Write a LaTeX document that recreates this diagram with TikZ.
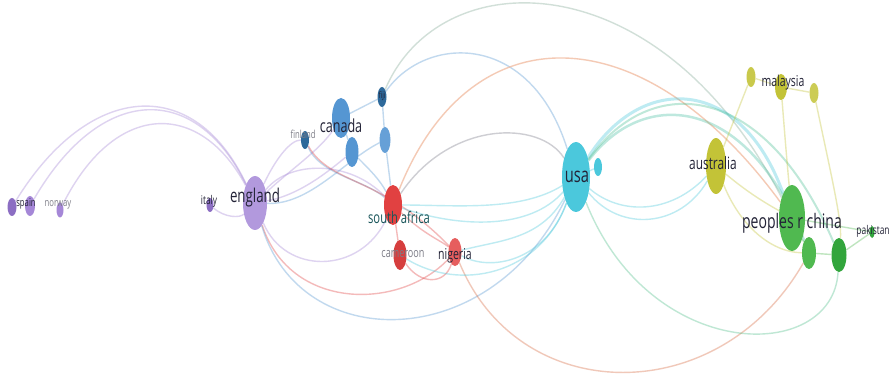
\documentclass[tikz,border=0pt]{standalone}
\usepackage{fontspec}
\setmainfont{Open Sans}
\usetikzlibrary{shapes.geometric,backgrounds}

\definecolor{purpleV}{RGB}{165,135,215}
\definecolor{purpleD}{RGB}{140,110,195}
\definecolor{blueV}{RGB}{85,150,210}
\definecolor{blueD}{RGB}{45,105,155}
\definecolor{redV}{RGB}{225,65,65}
\definecolor{peachV}{RGB}{240,180,150}
\definecolor{grayV}{RGB}{120,120,135}
\definecolor{cyanV}{RGB}{75,200,220}
\definecolor{yellowV}{RGB}{195,195,55}
\definecolor{greenV}{RGB}{80,185,80}
\definecolor{greenD}{RGB}{50,165,60}
\definecolor{labelV}{RGB}{35,35,55}
\definecolor{labelG}{RGB}{125,125,135}
\definecolor{labelT}{RGB}{25,85,90}

\newcommand{\narrow}[1]{\scalebox{0.7}[1]{#1}}

\tikzset{
  bub/.style={ellipse, draw=none, inner sep=0pt, fill=#1},
  sz/.style 2 args={minimum width=#1, minimum height=#2},
  lab/.style={inner sep=0pt, text=labelV},
  link/.style={line width=1.4pt, draw opacity=0.36},
}

\begin{document}
\begin{tikzpicture}[x=1pt, y=-1pt]
\useasboundingbox (0,0) rectangle (894,382);

%Countries
\node[bub=purpleD, sz={9}{18}] (spain) at (12,207) {};
\node[bub=purpleV, sz={10}{20}] (spainb) at (30,206) {};
\node[bub=purpleV, sz={7}{15}] (norway) at (60,210) {};
\node[bub=purpleD, sz={7}{14}] (italy) at (210,205) {};
\node[bub=purpleV!85, sz={24}{54}] (england) at (255,203) {};
\node[bub=blueD, sz={8}{18}] (finland) at (305,140) {};
\node[bub=blueV, sz={18}{40}] (canada) at (341,118) {};
\node[bub=blueV, sz={13}{30}] (canadab) at (352,152) {};
\node[bub=blueD, sz={9}{20}] (fiji) at (382,97) {};
\node[bub=blueV!90, sz={11}{26}] (bluec) at (385,140) {};
\node[bub=redV, sz={18}{40}] (safrica) at (393,205) {};
\node[bub=redV!95!black, sz={13}{30}] (cameroon) at (400,255) {};
\node[bub=redV!85, sz={13}{28}] (nigeria) at (455,252) {};
\node[bub=cyanV, sz={28}{70}] (usa) at (576,177) {};
\node[bub=cyanV, sz={8}{18}] (usab) at (598,167) {};
\node[bub=yellowV, sz={20}{56}] (australia) at (716,166) {};
\node[bub=yellowV!90, sz={9}{20}] (malaysiaa) at (751,77) {};
\node[bub=yellowV, sz={12}{26}] (malaysia) at (781,87) {};
\node[bub=yellowV!85, sz={9}{20}] (malaysiac) at (814,93) {};
\node[bub=greenV, sz={26}{66}] (china) at (792,218) {};
\node[bub=greenV, sz={14}{32}] (chinab) at (809,253) {};
\node[bub=greenD, sz={15}{34}] (chinac) at (839,255) {};
\node[bub=greenD, sz={5}{12}] (pakistan) at (872,232) {};

%Links
\begin{pgfonlayer}{background}
\fill[white] (0,0) rectangle (894,382);
  %purple cluster
\draw[link, purpleV] (spainb) .. controls (100,85) and (195,80) .. (england);
\draw[link, purpleV] (spain) .. controls (90,80) and (195,75) .. (england);
\draw[link, purpleV] (norway) .. controls (115,100) and (200,100) .. (england);
\draw[link, purpleV] (italy) .. controls (225,218) and (240,218) .. (england);
\draw[link, purpleV] (england) .. controls (290,160) and (350,160) .. (safrica);
\draw[link, purpleV] (england) .. controls (290,170) and (320,150) .. (canada);
\draw[link, purpleV] (england) .. controls (275,160) and (290,140) .. (finland);
\draw[link, purpleV] (england) .. controls (300,195) and (330,170) .. (canadab);
\draw[link, purpleV] (england) .. controls (285,275) and (360,275) .. (safrica);
\draw[link, redV] (england) .. controls (290,311) and (400,311) .. (nigeria);
\draw[link, blueV] (england) .. controls (300,355) and (490,355) .. (usa);
  %blue cluster
\draw[link, blueV] (england) .. controls (310,205) and (345,160) .. (bluec);
\draw[link, blueV] (finland) .. controls (320,175) and (365,180) .. (safrica);
\draw[link, blueV] (canada) -- (fiji);
\draw[link, blueV] (canada) -- (canadab);
\draw[link, blueV] (fiji) -- (bluec);
\draw[link, blueV] (bluec) -- (safrica);
\draw[link, blueV] (canadab) .. controls (370,170) and (380,180) .. (safrica);
\draw[link, blueV] (fiji) .. controls (425,35) and (530,30) .. (usa);
\draw[link, blueV!60!yellowV] (fiji) .. controls (440,-40) and (660,-40) .. (china);
  %red cluster
\draw[link, peachV, draw opacity=0.7] (safrica) .. controls (470,12) and (641,12) .. (china);
\draw[link, redV!70!yellowV] (nigeria) .. controls (520,409) and (720,409) .. (chinab);
\draw[link, grayV] (safrica) .. controls (450,120) and (540,120) .. (usa);
\draw[link, redV] (safrica) -- (cameroon);
\draw[link, redV] (safrica) .. controls (425,235) and (440,240) .. (nigeria);
\draw[link, redV] (cameroon) .. controls (420,285) and (445,285) .. (nigeria);
\draw[link, redV] (finland) .. controls (330,185) and (380,175) .. (nigeria);
  %usa
\draw[link, cyanV] (usa) -- (usab);
\draw[link, cyanV] (usa) .. controls (540,240) and (500,240) .. (nigeria);
\draw[link, cyanV] (usa) .. controls (545,262) and (490,272) .. (nigeria);
\draw[link, cyanV] (usa) .. controls (530,230) and (460,228) .. (safrica);
\draw[link, cyanV] (usa) .. controls (520,212) and (455,205) .. (safrica);
\draw[link, cyanV] (usa) .. controls (540,275) and (460,292) .. (cameroon);
\draw[link, cyanV, line width=3pt] (usa) .. controls (640,74) and (740,74) .. (china);
\draw[link, cyanV!60!greenV, line width=2.5pt] (usa) .. controls (645,86) and (748,96) .. (chinab);
\draw[link, cyanV!50!greenV, line width=2pt] (usa) .. controls (652,70) and (765,82) .. (chinac);
\draw[link, cyanV] (usa) .. controls (620,215) and (670,215) .. (australia);
\draw[link, cyanV] (usa) .. controls (620,232) and (680,228) .. (australia);
\draw[link, greenV!60!cyanV] (usa) .. controls (650,364) and (833,364) .. (chinac);
  %yellow and green clusters
\draw[link, yellowV] (malaysiaa) -- (australia);
\draw[link, yellowV] (malaysiaa) -- (malaysia);
\draw[link, yellowV] (malaysia) -- (malaysiac);
\draw[link, yellowV] (malaysia) .. controls (786,150) .. (china);
\draw[link, yellowV] (malaysiac) .. controls (830,170) and (842,220) .. (chinac);
\draw[link, yellowV] (australia) .. controls (740,225) and (770,252) .. (chinab);
\draw[link, yellowV] (australia) .. controls (745,190) and (760,200) .. (china);
\draw[link, greenV] (china) -- (chinab);
\draw[link, greenV] (chinab) -- (chinac);
\draw[link, greenV] (chinac) -- (pakistan);
\draw[link, greenV] (china) -- (pakistan);
\end{pgfonlayer}

%Labels
\node[lab, font=\fontsize{11}{11}\selectfont] (l-spain) at (26,204) {\narrow{spain}};
\node[lab, text=labelG, font=\fontsize{11}{11}\selectfont] (l-norway) at (58,205) {\narrow{norway}};
\node[lab, font=\fontsize{12}{12}\selectfont] (l-italy) at (209,201) {\narrow{italy}};
\node[lab, font=\fontsize{19}{19}\selectfont] (l-england) at (255,198) {\narrow{england}};
\node[lab, text=labelG, font=\fontsize{11}{11}\selectfont] (l-finland) at (303,134) {\narrow{finland}};
\node[lab, font=\fontsize{18}{18}\selectfont] (l-canada) at (341,126) {\narrow{canada}};
\node[lab, font=\fontsize{9}{9}\selectfont] (l-fiji) at (382,96) {\narrow{fiji}};
\node[lab, text=labelT, font=\fontsize{16}{16}\selectfont] (l-safrica) at (399,217) {\narrow{south africa}};
\node[lab, text=labelG, font=\fontsize{13}{13}\selectfont] (l-cameroon) at (403,254) {\narrow{cameroon}};
\node[lab, font=\fontsize{15}{15}\selectfont] (l-nigeria) at (455,256) {\narrow{nigeria}};
\node[lab, font=\fontsize{21}{21}\selectfont] (l-usa) at (577,177) {\narrow{usa}};
\node[lab, font=\fontsize{17}{17}\selectfont] (l-australia) at (713,163) {\narrow{australia}};
\node[lab, font=\fontsize{15}{15}\selectfont] (l-malaysia) at (783,83) {\narrow{malaysia}};
\node[lab, font=\fontsize{20}{20}\selectfont] (l-china) at (792,223) {\narrow{peoples r china}};
\node[lab, font=\fontsize{12}{12}\selectfont] (l-pakistan) at (873,231) {\narrow{pakistan}};

\end{tikzpicture}
\end{document}
